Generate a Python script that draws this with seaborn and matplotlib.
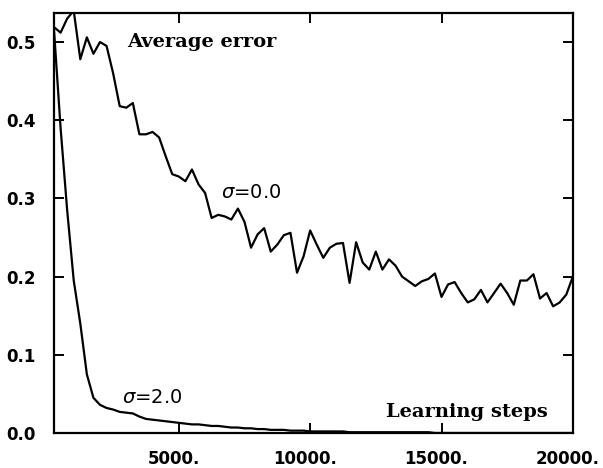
import numpy as np
import pandas as pd
import matplotlib
matplotlib.use("Agg")
import matplotlib.pyplot as plt
import matplotlib.transforms as mtransforms
import seaborn as sns

# learning steps, sampled every 250 steps
steps = np.arange(250, 20001, 250)

# average error, sigma = 0.0
err_sigma0 = [
    0.519, 0.512, 0.530, 0.540, 0.478, 0.506, 0.485, 0.500, 0.495, 0.460,
    0.418, 0.416, 0.422, 0.382, 0.382, 0.385, 0.378, 0.354, 0.331, 0.328,
    0.322, 0.337, 0.318, 0.307, 0.275, 0.279, 0.277, 0.273, 0.287, 0.270,
    0.237, 0.254, 0.262, 0.232, 0.241, 0.253, 0.256, 0.205, 0.226, 0.259,
    0.241, 0.224, 0.237, 0.242, 0.243, 0.192, 0.244, 0.218, 0.209, 0.232,
    0.209, 0.222, 0.214, 0.200, 0.194, 0.188, 0.194, 0.197, 0.204, 0.174,
    0.190, 0.193, 0.179, 0.167, 0.171, 0.183, 0.167, 0.179, 0.191, 0.179,
    0.164, 0.195, 0.195, 0.203, 0.172, 0.179, 0.162, 0.167, 0.177, 0.200,
]

# average error, sigma = 2.0
err_sigma2 = [
    0.515, 0.390, 0.285, 0.195, 0.140, 0.075, 0.045, 0.036, 0.032, 0.030,
    0.027, 0.026, 0.025, 0.021, 0.018, 0.017, 0.016, 0.015, 0.014, 0.013,
    0.012, 0.011, 0.011, 0.010, 0.009, 0.009, 0.008, 0.007, 0.007, 0.006,
    0.006, 0.005, 0.005, 0.004, 0.004, 0.004, 0.003, 0.003, 0.003, 0.002,
    0.002, 0.002, 0.002, 0.002, 0.002, 0.001, 0.001, 0.001, 0.001, 0.001,
    0.001, 0.001, 0.001, 0.001, 0.001, 0.001, 0.001, 0.001, 0.000, 0.000,
    0.000, 0.000, 0.000, 0.000, 0.000, 0.000, 0.000, 0.000, 0.000, 0.000,
    0.000, 0.000, 0.000, 0.000, 0.000, 0.000, 0.000, 0.000, 0.000, 0.000,
]

x_ticks = [5000, 10000, 15000, 20000]
x_tick_labels = ["5000.", "10000.", "15000.", "20000."]
y_ticks = [0.0, 0.1, 0.2, 0.3, 0.4, 0.5]
y_tick_labels = ["0.0", "0.1", "0.2", "0.3", "0.4", "0.5"]

df = pd.DataFrame({
    "step": np.concatenate([steps, steps]),
    "error": err_sigma0 + err_sigma2,
    "sigma": ["0.0"] * len(steps) + ["2.0"] * len(steps),
})

sns.set_style("ticks")
plt.rcParams["font.family"] = ["DejaVu Sans"]
plt.rcParams["text.color"] = "black"
plt.rcParams["xtick.color"] = "black"
plt.rcParams["ytick.color"] = "black"
plt.rcParams["axes.edgecolor"] = "black"

fig = plt.figure(figsize=(6.03, 4.68), dpi=100)
ax = fig.add_axes([0.0896, 0.0748, 0.8604, 0.8972])

sns.lineplot(data=df, x="step", y="error", hue="sigma",
             palette={"0.0": "black", "2.0": "black"},
             linewidth=1.6, legend=False, ax=ax)

ax.set_xlim(250, 20000)
ax.set_ylim(0, 0.537)
ax.set_xticks(x_ticks)
ax.set_xticklabels(x_tick_labels, fontsize=12, fontweight="bold")
ax.set_yticks(y_ticks)
ax.set_yticklabels(y_tick_labels, fontsize=12, fontweight="bold")
ax.set_xlabel("")
ax.set_ylabel("")

ax.tick_params(axis="both", direction="in", length=7, width=1.4,
               top=True, right=True)
ax.tick_params(axis="x", pad=12)
ax.tick_params(axis="y", pad=13)
for sp in ax.spines.values():
    sp.set_visible(True)
    sp.set_linewidth(1.6)

# labels sit a little left of their ticks in the original
shift = mtransforms.ScaledTranslation(-5 / 100, 0, fig.dpi_scale_trans)
for lab in ax.get_xticklabels():
    lab.set_transform(lab.get_transform() + shift)

serif = dict(family="DejaVu Serif", fontweight="bold", fontsize=14)
ax.text(3020, 0.50, "Average error", va="center", ha="left", **serif)
ax.text(12870, 0.027, "Learning steps", va="center", ha="left", **serif)
ax.text(6600, 0.307, r"$\sigma$=0.0", va="center", ha="left", fontsize=14)
ax.text(2830, 0.046, r"$\sigma$=2.0", va="center", ha="left", fontsize=14)

fig.savefig("out.png", dpi=100)
plt.close(fig)
